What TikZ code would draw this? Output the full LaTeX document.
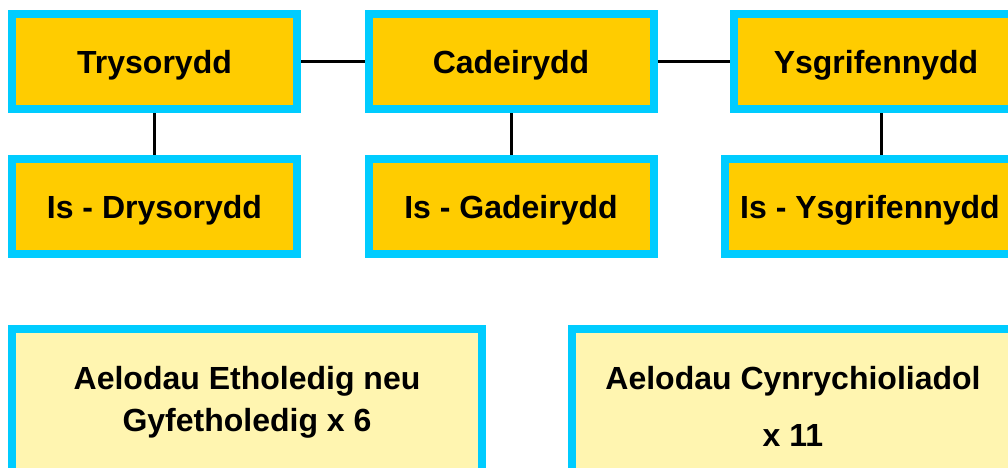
\documentclass[tikz,border=0pt]{standalone}
\usepackage{fontspec}
\setmainfont{Liberation Sans}
\definecolor{frame}{HTML}{00CCFF}
\definecolor{gold}{HTML}{FFCC00}
\definecolor{pale}{HTML}{FFF5B0}
\begin{document}
\begin{tikzpicture}[x=0.75pt, y=-0.75pt,
    officer/.style={draw=frame, fill=gold, line width=6pt, inner sep=2pt,
        minimum width=213.75pt, minimum height=71.25pt, text depth=0pt,
        font=\fontsize{24pt}{31.5pt}\selectfont\bfseries},
    member/.style={draw=frame, fill=pale, line width=6pt, inner sep=2pt, align=center,
        font=\fontsize{24pt}{31.5pt}\selectfont\bfseries},
    link/.style={line width=2.25pt}]
    \useasboundingbox (0,0) rectangle (1008,468);
    \clip (0,0) rectangle (1008,468);
    \node[officer] (tres) at (154.5,61.5) {Trysorydd};
    \node[officer] (chair) at (511,61.5) {Cadeirydd};
    \node[officer] (sec) at (876,61.5) {Ysgrifennydd};
    \node[officer] (vtres) at (154.5,206.5) {Is - Drysorydd};
    \node[officer] (vchair) at (511,206.5) {Is - Gadeirydd};
    \node[officer, minimum width=217.5pt] (vsec) at (870,206.5) {Is - Ysgrifennydd};
    \node[member, minimum width=352.5pt, minimum height=109.5pt] (elected) at (247,402)
        {Aelodau Etholedig neu\\Gyfetholedig x 6};
    \node[member, minimum width=331.5pt, minimum height=116.25pt] (reps) at (793,406.5)
        {Aelodau Cynrychioliadol\\[11.25pt]x 11};
    \draw[link] (tres) -- (chair);
    \draw[link] (chair) -- (sec);
    \draw[link] (tres) -- (vtres);
    \draw[link] (chair) -- (vchair);
    \draw[link] ([xshift=3.75pt]sec.south) -- ([xshift=3.75pt]sec.south |- vsec.north);
\end{tikzpicture}
\end{document}
